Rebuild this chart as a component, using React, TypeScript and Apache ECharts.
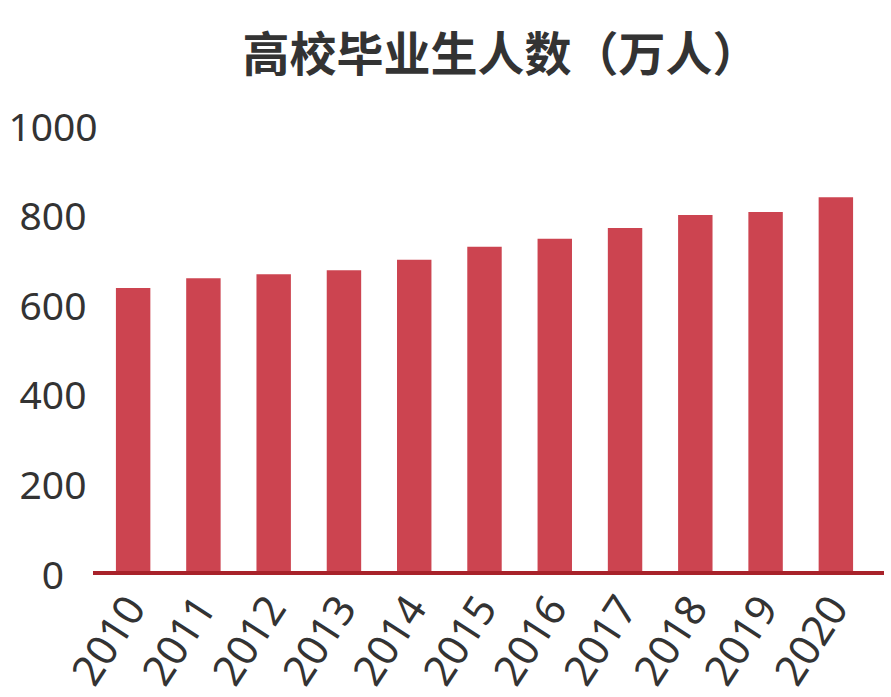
import React, { useEffect, useRef } from "react";
import * as echarts from "echarts";

const titleText = "高校毕业生人数（万人）";
const years = ["2010", "2011", "2012", "2013", "2014", "2015", "2016", "2017", "2018", "2019", "2020"];
const graduates = [636, 658, 667, 676, 699, 728, 746, 770, 799, 806, 839];
const yTicks = { min: 0, max: 1000, interval: 200 };

export default function App() {
  const ref = useRef<HTMLDivElement>(null);
  useEffect(() => {
    if (!ref.current) return;
    const chart = echarts.init(ref.current, null, { renderer: "svg" });
    const gridLeft = 98;
    const gridTop = 125;
    const gridHeight = 448;
    chart.setOption({
      animation: false,
      backgroundColor: "#ffffff",
      title: {
        text: titleText,
        left: 496,
        textAlign: "center",
        top: 22,
        textStyle: {
          fontFamily: "Noto Sans CJK SC",
          fontWeight: "bold",
          fontSize: 47,
          color: "#333333",
        },
      },
      grid: { left: gridLeft, right: 20, top: gridTop, height: gridHeight, containLabel: false },
      xAxis: {
        type: "category",
        data: years,
        axisLine: { show: false },
        axisTick: { show: false },
        axisLabel: {
          rotate: 57,
          margin: 26,
          fontSize: 42,
          fontFamily: "Noto Sans",
          color: "#333333",
          interval: 0,
        },
      },
      yAxis: {
        type: "value",
        min: yTicks.min,
        max: yTicks.max,
        interval: yTicks.interval,
        splitLine: { show: false },
        axisLine: { show: false },
        axisTick: { show: false },
        axisLabel: {
          margin: 45,
          align: "center",
          fontSize: 39,
          fontFamily: "Noto Sans",
          color: "#333333",
          formatter: (v: number) => String(v),
        },
      },
      graphic: [
        {
          type: "line",
          shape: { x1: 93, y1: gridTop + gridHeight, x2: 884, y2: gridTop + gridHeight },
          style: { stroke: "#a8222a", lineWidth: 4 },
          z: 10,
        },
      ],
      series: [
        {
          type: "bar",
          data: graduates,
          barWidth: "49%",
          itemStyle: { color: "#cc4450" },
        },
      ],
    });
    return () => chart.dispose();
  }, []);
  return (
    <div
      ref={ref}
      style={{ position: "fixed", left: 0, top: 0, width: 891, height: 697 }}
    />
  );
}
